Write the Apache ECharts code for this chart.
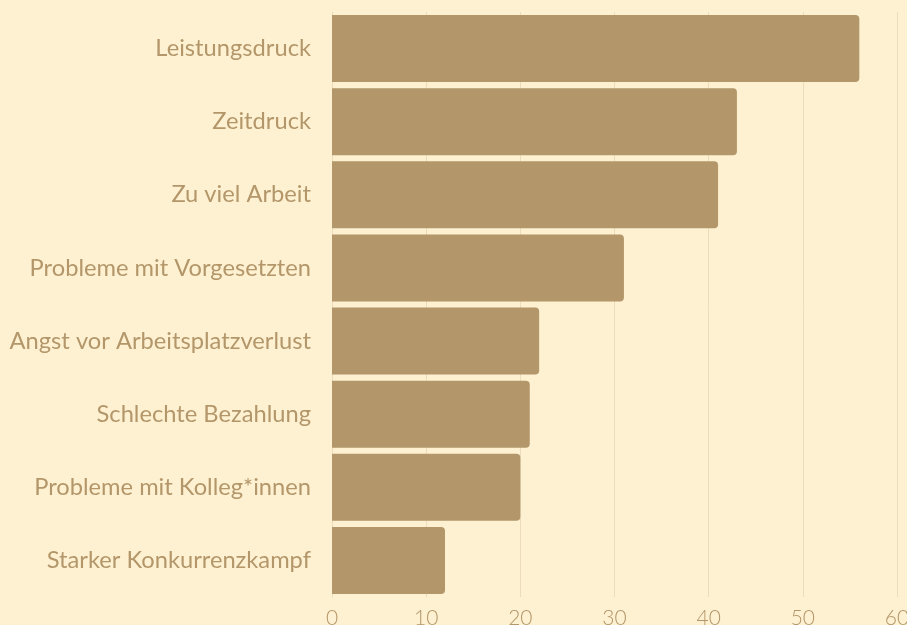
<!DOCTYPE html>
<html><head><meta charset="utf-8">
<script src="https://cdn.jsdelivr.net/npm/echarts@6/dist/echarts.min.js"></script>
<style>html,body{margin:0;padding:0;background:#fef1d2;}#c{width:907px;height:625px;}</style>
</head><body><div id="c"></div>
<script>
const categories = ["Leistungsdruck","Zeitdruck","Zu viel Arbeit","Probleme mit Vorgesetzten","Angst vor Arbeitsplatzverlust","Schlechte Bezahlung","Probleme mit Kolleg*innen","Starker Konkurrenzkampf"];
const values = [56, 43, 41, 31, 22, 21, 20, 12];
const xTicks = [0, 10, 20, 30, 40, 50, 60];
const chart = echarts.init(document.getElementById('c'));
chart.setOption({
  backgroundColor: '#fef1d2',
  animation: false,
  grid: {left: 332, right: 10, top: 12, bottom: 28, containLabel: false, outerBoundsMode: 'none'},
  xAxis: {
    type: 'value', min: xTicks[0], max: xTicks[xTicks.length-1], interval: 10,
    axisLine: {show: false}, axisTick: {show: false},
    splitLine: {lineStyle: {color: '#ecdcbc', width: 1}},
    axisLabel: {color: '#b39669', fontSize: 21, fontFamily: 'Lato', fontWeight: 300, margin: 11}
  },
  yAxis: {
    type: 'category', data: categories, inverse: true,
    axisLine: {show: true, lineStyle: {color: '#ecdcbc'}}, axisTick: {show: false},
    axisLabel: {color: '#b39669', fontSize: 23.7, fontFamily: 'Lato', fontWeight: 400, margin: 21, padding: [0, 0, 4, 0]}
  },
  series: [{
    type: 'bar', data: values, barCategoryGap: '8.5%',
    itemStyle: {color: '#b3966a', borderRadius: [0, 4, 4, 0]}
  }]
});
</script></body></html>
